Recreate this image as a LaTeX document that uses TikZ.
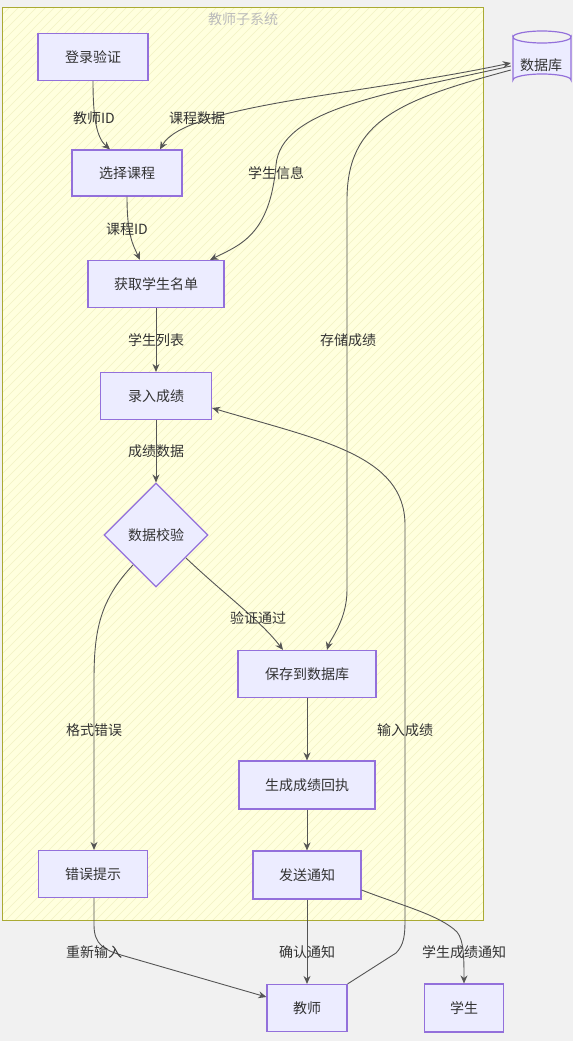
\documentclass[tikz,border=0pt]{standalone}
\usepackage{fontspec}
\setmainfont{Noto Sans CJK SC}
\usetikzlibrary{shapes.geometric,arrows.meta}
\definecolor{bgc}{HTML}{F1F1F1}
\definecolor{clfill}{HTML}{FFFFDE}
\definecolor{clline}{HTML}{AAAA33}
\definecolor{hatch}{HTML}{F2F2C4}
\definecolor{nfill}{HTML}{ECECFF}
\definecolor{nline}{HTML}{9370DB}
\definecolor{edge}{HTML}{555555}
\definecolor{txt}{HTML}{333333}
\definecolor{ttl}{HTML}{BBBBBB}
\begin{document}
\begin{tikzpicture}[x=1pt,y=-1pt,
  every node/.style={font=\fontsize{14}{16}\selectfont, text=txt},
  box/.style={draw=nline, fill=nfill, line width=1.2pt, inner sep=0pt},
  dia/.style={diamond, draw=nline, fill=nfill, line width=1.2pt, inner sep=0pt, minimum width=104, minimum height=104},
  arr/.style={draw=edge, line width=0.9pt, -{Stealth[length=8pt,width=7pt]}},
  barr/.style={draw=edge, line width=0.9pt, {Stealth[length=8pt,width=7pt]}-{Stealth[length=8pt,width=7pt]}},
  lab/.style={inner sep=1pt}
]
\useasboundingbox (0,0) rectangle (573,1041);
\fill[bgc] (0,0) rectangle (573,1041);
% cluster
\fill[clfill] (2,8) rectangle (483,920);
\begin{scope}
\clip (2,8) rectangle (483,920);
\foreach \k in {-940,-931,...,490}{
  \draw[hatch, line width=0.6pt] (\k,930) -- (\k+930,0);
}
\end{scope}
\draw[clline, line width=1pt] (2,8) rectangle (483,920);
\node[text=ttl] (title) at (243,19) {教师子系统};

% nodes
\node[box, minimum width=110, minimum height=47] (login) at (93,57) {登录验证};
\node[box, minimum width=110, minimum height=46] (sel) at (127,173) {选择课程};
\node[box, minimum width=136, minimum height=47] (get) at (156,284) {获取学生名单};
\node[box, minimum width=111, minimum height=47] (enter) at (156,396) {录入成绩};
\node[dia] (check) at (156,535) {数据校验};
\node[box, minimum width=138, minimum height=47] (save) at (307,674) {保存到数据库};
\node[box, minimum width=136, minimum height=48] (rcpt) at (307,785) {生成成绩回执};
\node[box, minimum width=109, minimum height=47] (err) at (93,874) {错误提示};
\node[box, minimum width=108, minimum height=48] (notify) at (307,875) {发送通知};
\node[box, minimum width=80, minimum height=47] (teacher) at (307,1008) {教师};
\node[box, minimum width=79, minimum height=48] (student) at (464,1008) {学生};

% database cylinder
\draw[draw=nline, fill=nfill, line width=1.2pt]
  (513,37) -- (513,80) arc[start angle=180, end angle=360, x radius=29, y radius=6]
  -- (571,37) arc[start angle=0, end angle=180, x radius=29, y radius=6] -- cycle;
\draw[draw=nline, line width=1.2pt] (513,37) arc[start angle=180, end angle=360, x radius=29, y radius=6];
\node[minimum width=58, minimum height=56, inner sep=0pt] (db) at (542,58) {};
\node at (541,65) {数据库};

% edges
\draw[arr] (login.south) .. controls (93,120) and (97,138) .. ([xshift=-17]sel.north);
\node[lab] (l1) at (94,118) {教师ID};

\draw[barr] ([xshift=-2,yshift=-5]db.west) .. controls (360,95) and (185,105) .. ([xshift=33]sel.north);
\node[lab] (l2) at (197,118) {课程数据};

\draw[arr] ([xshift=-2,yshift=-8]db.west) .. controls (380,95) and (281,110) .. (276,165)
  .. controls (270,235) and (240,245) .. ([xshift=54]get.north);
\node[lab] (l3) at (276,173) {学生信息};

\draw[arr] ([xshift=-2,yshift=-12]db.west) .. controls (400,100) and (347,120) .. (347,200)
  -- (347,590) .. controls (347,620) and (330,640) .. ([xshift=20]save.north);
\node[lab] (l4) at (348,340) {存储成绩};

\draw[arr] (sel.south) .. controls (127,235) and (133,245) .. ([xshift=-16]get.north);
\node[lab] (l5) at (127,229) {课程ID};

\draw[arr] (get.south) -- (enter.north);
\node[lab] (l6) at (156,340) {学生列表};

\draw[arr] (enter.south) -- (check.north);
\node[lab] (l7) at (156,451) {成绩数据};

\draw[arr] (186,558) .. controls (225,595) and (260,620) .. ([xshift=-24]save.north);
\node[lab] (l8) at (258,618) {验证通过};

\draw[arr] (133,565) .. controls (100,600) and (94,630) .. (94,680) -- ([xshift=1]err.north);
\node[lab] (l9) at (94,730) {格式错误};

\draw[arr] (save.south) -- (rcpt.north);
\draw[arr] (rcpt.south) -- (notify.north);

\draw[arr] ([xshift=1]err.south) -- (94,925) .. controls (94,945) and (105,950) .. (121,955)
  -- ([yshift=11]teacher.west);
\node[lab] (l10) at (94,952) {重新输入};

\draw[arr] (notify.south) -- (teacher.north);
\node[lab] (l11) at (307,952) {确认通知};

\draw[arr] ([yshift=-15]notify.east) .. controls (400,905) and (440,915) .. (457,932)
  .. controls (464,940) and (464,960) .. (student.north);
\node[lab] (l12) at (464,952) {学生成绩通知};

\draw[arr] (teacher.north east) -- (396,953) .. controls (404,945) and (405,935) .. (405,920)
  -- (405,525) .. controls (405,455) and (320,440) .. ([yshift=-12]enter.east);
\node[lab] (l13) at (405,730) {输入成绩};
\end{tikzpicture}
\end{document}
